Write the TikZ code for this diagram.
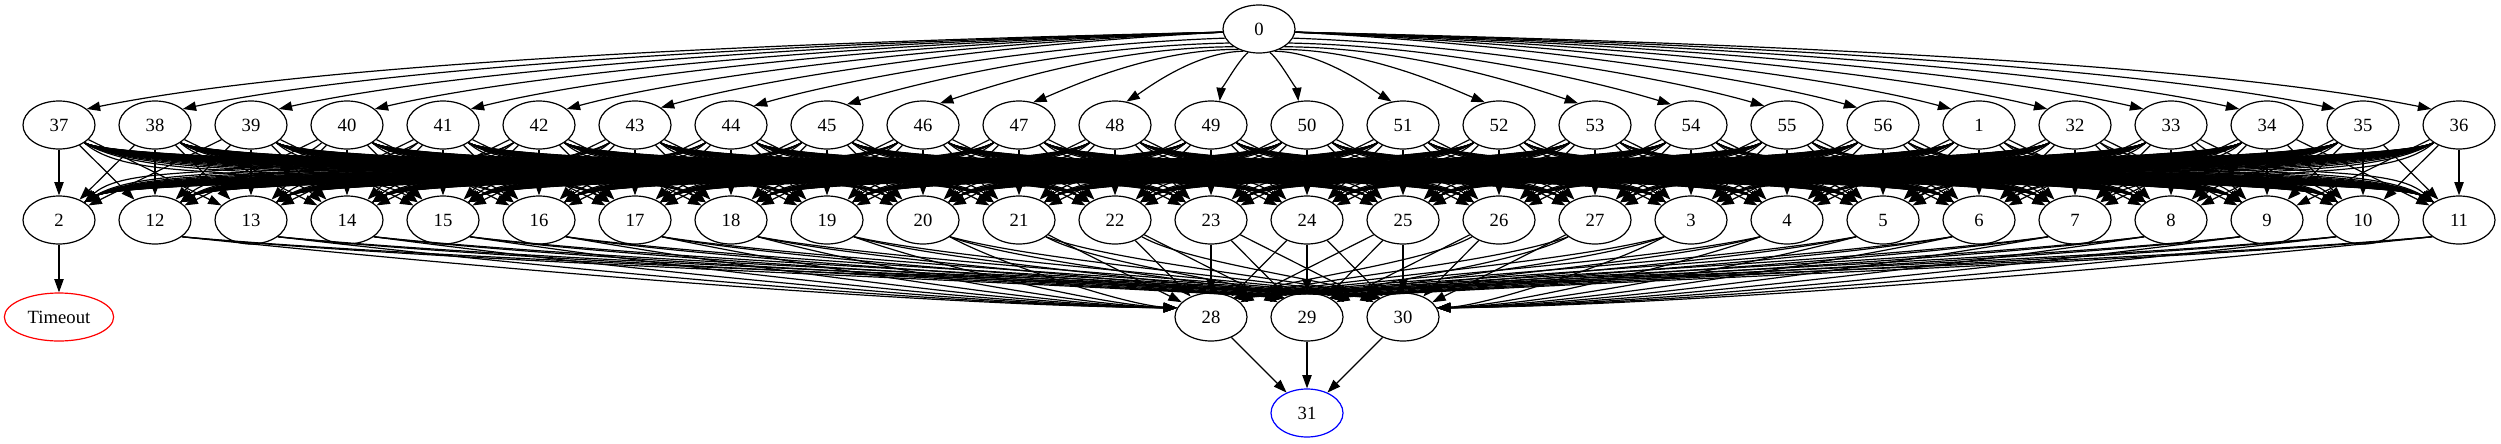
\documentclass[tikz,border=0pt]{standalone}
\usepackage{fontspec}
\setmainfont{Liberation Serif}
\usetikzlibrary{arrows.meta,shapes.geometric}
\begin{document}
\begin{tikzpicture}[x=0.75pt,y=-0.75pt,
  gv/.style={draw,ellipse,minimum width=54pt,minimum height=36pt,inner sep=0pt,line width=0.9pt,font=\fontsize{14}{16}\selectfont},
  ed/.style={line width=0.9pt,-{Triangle[length=10pt,width=7pt]}}]
\useasboundingbox (0,0) rectangle (2501,443);
% nodes
\node[gv] (n0) at (1259,29) {0};
\foreach \la [count=\ii from 0] in {37,38,39,40,41,42,43,44,45,46,47,48,49,50,51,52,53,54,55,56,1,32,33,34,35,36}
  \node[gv] (n\la) at ({59+96*\ii},125) {\la};
\foreach \la [count=\ii from 0] in {2,12,13,14,15,16,17,18,19,20,21,22,23,24,25,26,27,3,4,5,6,7,8,9,10,11}
  \node[gv] (n\la) at ({59+96*\ii},220) {\la};
\node[gv,draw=red,minimum width=82pt] (nT) at (59,317) {Timeout};
\node[gv] (n28) at (1211,317) {28};
\node[gv] (n29) at (1307,317) {29};
\node[gv] (n30) at (1403,317) {30};
\node[gv,draw=blue] (n31) at (1307,413) {31};
% 0 -> row 1
\foreach \la [count=\ii from 0] in {37,38,39,40,41,42,43,44,45,46,47,48,49,50,51,52,53,54,55,56,1,32,33,34,35,36} {
  \pgfmathsetmacro\ddx{96*\ii-1200}
  \pgfmathtruncatemacro\sg{sign(\ddx)}
  \pgfmathsetmacro\kk{abs(\ddx)/96}
  \pgfmathtruncatemacro\ao{-90+\sg*(90-max(5,65-10*(\kk-0.5)))}
  \pgfmathtruncatemacro\ai{90+\sg*(90-max(30,70-6*(\kk-0.5)))}
  \pgfmathsetmacro\hA{10+22*sqrt(0.5/\kk)}
  \pgfmathsetmacro\hB{32+27*(\kk-0.5)/12}
  \draw[ed] (n0.\ao) .. controls ({1259+0.45*\ddx},{29+\hA}) and ({59+96*\ii-0.2*\ddx},{125-\hB}) .. (n\la.\ai);
}
% row 1 -> row 2
\foreach \la [count=\ii from 0] in {37,38,39,40,41,42,43,44,45,46,47,48,49,50,51,52,53,54,55,56,1,32,33,34,35,36} {
  \foreach \lb [count=\jj from 0] in {2,12,13,14,15,16,17,18,19,20,21,22,23,24,25,26,27,3,4,5,6,7,8,9,10,11} {
    \pgfmathtruncatemacro\dd{\jj-\ii}
    \pgfmathtruncatemacro\ad{abs(\dd)}
    \ifnum\ad<3
      \draw[ed] (n\la) -- (n\lb);
    \else
      \pgfmathtruncatemacro\sg{sign(\dd)}
      \pgfmathtruncatemacro\ao{-90+\sg*55}
      \pgfmathtruncatemacro\ai{90+\sg*55}
      \pgfmathsetmacro\off{\sg*min(24*\ad,100)}
      \draw[ed] (n\la.\ao) .. controls ({59+96*\ii+\off},185) and ({59+96*\jj-\off},160) .. (n\lb.\ai);
    \fi
  }
}
% row 2 -> 28, 29, 30
\foreach \lb [count=\jj from 1] in {12,13,14,15,16,17,18,19,20,21,22,23,24,25,26,27,3,4,5,6,7,8,9,10,11} {
  \foreach \tg/\xt in {28/1211,29/1307,30/1403} {
    \pgfmathtruncatemacro\ddx{\xt-59-96*\jj}
    \pgfmathtruncatemacro\adx{abs(\ddx)}
    \ifnum\adx<200
      \draw[ed] (n\lb) -- (n\tg);
    \else
      \pgfmathtruncatemacro\sg{sign(\ddx)}
      \pgfmathtruncatemacro\ao{-90+\sg*58}
      \pgfmathtruncatemacro\side{((\sg>0)&&(\tg==28))||((\sg<0)&&(\tg==30))}
      \ifnum\side=1
        \pgfmathtruncatemacro\ai{90+\sg*75}
        \def\cy{305}
      \else
        \pgfmathtruncatemacro\ai{90+\sg*50}
        \def\cy{278}
      \fi
      \draw[ed] (n\lb.\ao) .. controls ({59+96*\jj+0.25*\ddx},262) and ({\xt-0.3*\ddx},\cy) .. (n\tg.\ai);
    \fi
  }
}
% bottom
\draw[ed] (n2) -- (nT);
\draw[ed] (n28) -- (n31);
\draw[ed] (n29) -- (n31);
\draw[ed] (n30) -- (n31);
\end{tikzpicture}
\end{document}
